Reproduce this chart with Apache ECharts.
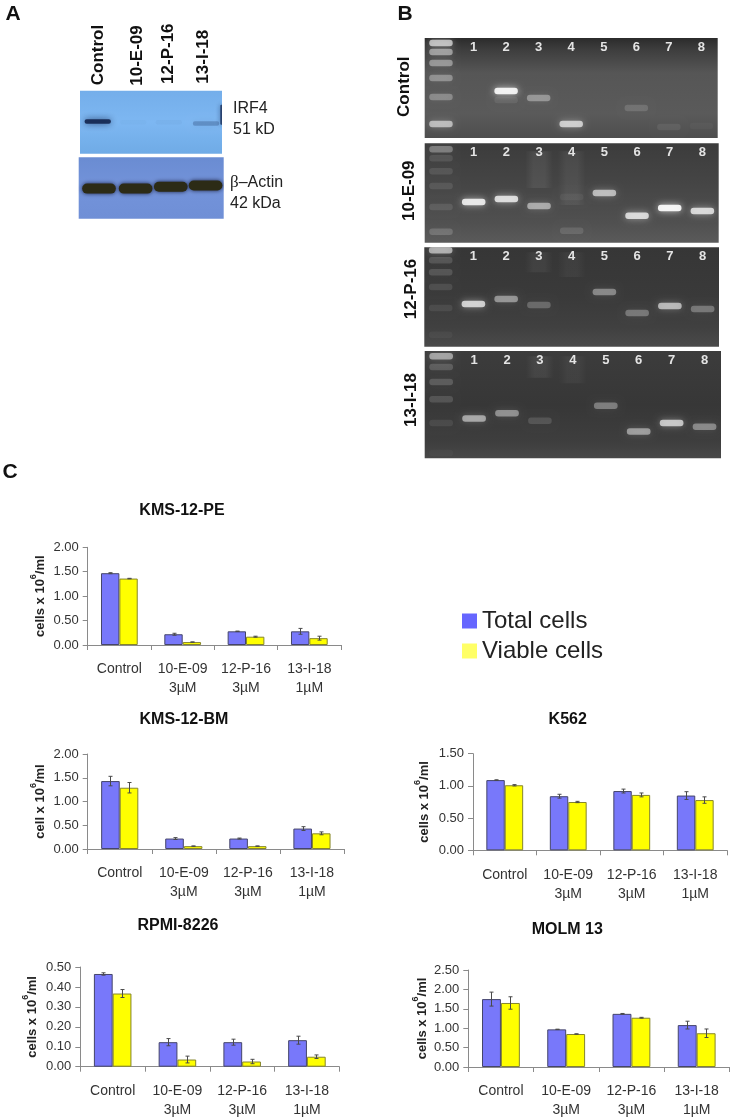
<!DOCTYPE html>
<html>
<head>
<meta charset="utf-8">
<style>html,body{margin:0;padding:0;background:#fff}#chart{width:733px;height:1120px}</style>
<script src="https://cdn.jsdelivr.net/npm/echarts@6/dist/echarts.min.js"></script>
</head>
<body>
<div id="chart"></div>
<script>
// ---------- panel C data ----------
const categories = ['Control', '10-E-09\n3µM', '12-P-16\n3µM', '13-I-18\n1µM'];
const seriesNames = ['Total cells', 'Viable cells'];

const kms12peTotal = [1.47, 0.22, 0.28, 0.28];
const kms12peViable = [1.36, 0.06, 0.17, 0.14];
const kms12peTotalErr = [0.01, 0.02, 0.005, 0.06];
const kms12peViableErr = [0.005, 0.003, 0.01, 0.04];

const kms12bmTotal = [1.43, 0.22, 0.22, 0.43];
const kms12bmViable = [1.29, 0.06, 0.06, 0.33];
const kms12bmTotalErr = [0.10, 0.02, 0.01, 0.04];
const kms12bmViableErr = [0.11, 0.005, 0.005, 0.03];

const rpmiTotal = [0.465, 0.123, 0.123, 0.133];
const rpmiViable = [0.367, 0.036, 0.026, 0.05];
const rpmiTotalErr = [0.006, 0.018, 0.015, 0.02];
const rpmiViableErr = [0.02, 0.017, 0.011, 0.009];

const k562Total = [1.09, 0.84, 0.92, 0.85];
const k562Viable = [1.01, 0.75, 0.86, 0.78];
const k562TotalErr = [0.005, 0.03, 0.03, 0.06];
const k562ViableErr = [0.01, 0.01, 0.03, 0.05];

const molmTotal = [1.75, 0.97, 1.37, 1.08];
const molmViable = [1.65, 0.85, 1.27, 0.87];
const molmTotalErr = [0.18, 0.005, 0.01, 0.10];
const molmViableErr = [0.16, 0.005, 0.01, 0.11];

// ---------- panel A data: [lane, migration %, darkness] ----------
const blotLanes = ['Control', '10-E-09', '12-P-16', '13-I-18'];
const irf4Bands = [[0, 49, 0.85], [1, 50, 0.02], [2, 50, 0.03], [3.05, 52, 0.24]];
const irf4EdgeSmudge = [[3.48, 38, 0.7]];
const actinBands = [[0.06, 51, 1], [1.07, 51, 1], [2.04, 48, 1], [3, 46, 1]];

// ---------- panel B data: [lane, migration %, brightness]; lane 0 is the ladder ----------
const gelLaneLabels = ['1', '2', '3', '4', '5', '6', '7', '8'];
const gelControlBands = [
  [0, 5, 0.62], [0, 14, 0.44], [0, 25, 0.38], [0, 40, 0.32], [0, 59, 0.28], [0, 86, 0.55],
  [2, 53, 0.88], [2, 62, 0.08], [3, 60, 0.34], [4, 86, 0.65], [6, 70, 0.14], [7, 89, 0.07], [8, 88, 0.03]
];
const gel10E09Bands = [
  [0, 6, 0.3], [0, 15, 0.1], [0, 28, 0.1], [0, 43, 0.1], [0, 64, 0.1], [0, 89, 0.17],
  [1, 59, 0.82], [2, 56, 0.75], [3, 63, 0.48], [4, 54, 0.05], [4, 88, 0.12], [5, 50, 0.58], [6, 73, 0.72], [7, 65, 0.9], [8, 68, 0.72]
];
const gel12P16Bands = [
  [0, 3, 0.55], [0, 13, 0.14], [0, 25, 0.14], [0, 40, 0.1], [0, 61, 0.08], [0, 88, 0.04],
  [1, 57, 0.7], [2, 52, 0.42], [3, 58, 0.22], [5, 45, 0.36], [6, 66, 0.28], [7, 59, 0.58], [8, 62, 0.28]
];
const gel13I18Bands = [
  [0, 5, 0.48], [0, 15, 0.17], [0, 29, 0.17], [0, 45, 0.14], [0, 67, 0.08], [0, 95, 0.03],
  [1, 63, 0.5], [2, 58, 0.4], [3, 65, 0.13], [5, 51, 0.32], [6, 75, 0.45], [7, 67, 0.65], [8, 70.5, 0.36]
];
// faint smears: [lane, from %, to %, brightness]
const gel10E09Smears = [[3, 8, 45, 0.07], [4, 8, 62, 0.06]];
const gel12P16Smears = [[3, 5, 25, 0.05], [4, 5, 30, 0.04]];
const gel13I18Smears = [[3, 5, 25, 0.06], [4, 5, 30, 0.04]];

// ---------- layout ----------
const FONT = '"Liberation Sans", Arial, sans-serif';
const grid = [], xAxis = [], yAxis = [], series = [], title = [], texts = [];

function addGrid(left, top, width, height) {
  grid.push({ left, top, width, height, containLabel: false, show: false });
  return grid.length - 1;
}

// ---------- bar charts ----------
function barChart(cfg) {
  const i = addGrid(cfg.left, cfg.top, cfg.right - cfg.left, cfg.bottom - cfg.top);
  xAxis.push({
    gridIndex: i, type: 'category', data: categories, position: 'bottom',
    axisLine: { lineStyle: { color: '#8a8a8a', width: 1 } },
    axisTick: { show: true, length: 5, alignWithLabel: false, interval: 0, lineStyle: { color: '#8a8a8a' } },
    axisLabel: { interval: 0, margin: 15, fontFamily: FONT, fontSize: 14, color: '#333', lineHeight: 19 },
    splitLine: { show: false }
  });
  yAxis.push({
    gridIndex: i, type: 'value', min: 0, max: cfg.max, interval: cfg.interval,
    name: '{a|' + cfg.yName + ' 10}{s|6}{a|/ml}', nameLocation: 'middle', nameRotate: 90, nameGap: cfg.nameGap,
    nameTextStyle: {
      fontFamily: FONT,
      rich: {
        a: { fontFamily: FONT, fontSize: 13, fontWeight: 'bold', color: '#222', lineHeight: 18, verticalAlign: 'bottom' },
        s: { fontFamily: FONT, fontSize: 9, fontWeight: 'bold', color: '#222', lineHeight: 18, verticalAlign: 'top' }
      }
    },
    axisLine: { show: true, lineStyle: { color: '#8a8a8a', width: 1 } },
    axisTick: { show: true, length: 5, lineStyle: { color: '#8a8a8a' } },
    axisLabel: { margin: 9, fontFamily: FONT, fontSize: 13, color: '#333', formatter: v => v.toFixed(2) },
    splitLine: { show: false }
  });
  const styles = [
    { color: '#7878fa', borderColor: '#45456a', borderWidth: 1 },
    { color: '#ffff00', borderColor: '#85852c', borderWidth: 1 }
  ];
  [cfg.total, cfg.viable].forEach((values, s) => {
    series.push({
      name: seriesNames[s], type: 'bar', xAxisIndex: i, yAxisIndex: i, data: values,
      barGap: 0, barCategoryGap: '42%', itemStyle: styles[s], silent: true, z: 2
    });
  });
  [cfg.totalErr, cfg.viableErr].forEach((errs, s) => {
    series.push({
      name: seriesNames[s] + ' error', type: 'custom', coordinateSystem: 'cartesian2d',
      xAxisIndex: i, yAxisIndex: i, silent: true, z: 3, clip: false,
      encode: { x: 0, y: 1 },
      data: errs.map((e, k) => [k, (s ? cfg.viable : cfg.total)[k], e]),
      renderItem: (params, api) => {
        const k = api.value(0), v = api.value(1), e = api.value(2);
        const off = api.size([1, 0])[0] * 0.145 * (s ? 1 : -1);
        const hi = api.coord([k, v + e]), lo = api.coord([k, v - e]);
        const x = Math.round(hi[0] + off) + 0.5;
        const st = { stroke: '#4a4a4a', lineWidth: 1, fill: 'none' };
        const seg = (x1, y1, x2, y2) => ({ type: 'line', shape: { x1, y1, x2, y2 }, style: st });
        return { type: 'group', children: [seg(x, hi[1], x, lo[1]), seg(x - 2, hi[1], x + 2, hi[1]), seg(x - 2, lo[1], x + 2, lo[1])] };
      }
    });
  });
  title.push({
    text: cfg.title, left: cfg.titleX, top: cfg.titleY - 9, textAlign: 'center', padding: 0,
    textStyle: { fontFamily: FONT, fontSize: 16, fontWeight: 'bold', color: '#111', lineHeight: 18 }
  });
}

barChart({ title: 'KMS-12-PE', titleX: 182, titleY: 511, left: 87.7, right: 341, top: 547.3, bottom: 645, max: 2, interval: 0.5, yName: 'cells x', nameGap: 41, total: kms12peTotal, viable: kms12peViable, totalErr: kms12peTotalErr, viableErr: kms12peViableErr });
barChart({ title: 'KMS-12-BM', titleX: 184, titleY: 719.5, left: 87.7, right: 344, top: 754, bottom: 849, max: 2, interval: 0.5, yName: 'cell x', nameGap: 41, total: kms12bmTotal, viable: kms12bmViable, totalErr: kms12bmTotalErr, viableErr: kms12bmViableErr });
barChart({ title: 'RPMI-8226', titleX: 178, titleY: 926, left: 80.3, right: 339.3, top: 967, bottom: 1066.7, max: 0.5, interval: 0.1, yName: 'cells x', nameGap: 41, total: rpmiTotal, viable: rpmiViable, totalErr: rpmiTotalErr, viableErr: rpmiViableErr });
barChart({ title: 'K562', titleX: 567.7, titleY: 719.5, left: 473, right: 727, top: 753.7, bottom: 850.3, max: 1.5, interval: 0.5, yName: 'cells x', nameGap: 42, total: k562Total, viable: k562Viable, totalErr: k562TotalErr, viableErr: k562ViableErr });
barChart({ title: 'MOLM 13', titleX: 567.3, titleY: 929.5, left: 468.3, right: 729.3, top: 970, bottom: 1067.3, max: 2.5, interval: 0.5, yName: 'cells x', nameGap: 39, total: molmTotal, viable: molmViable, totalErr: molmTotalErr, viableErr: molmViableErr });

// ---------- hidden coordinate systems for blots and gels ----------
function imagePanel(rect, laneMax) {
  const i = addGrid(rect[0], rect[1], rect[2] - rect[0], rect[3] - rect[1]);
  xAxis.push({ gridIndex: i, type: 'value', min: -0.5, max: laneMax + 0.5, show: false });
  yAxis.push({ gridIndex: i, type: 'value', min: 0, max: 100, inverse: true, show: false });
  return i;
}
function background(i, fillStops, z) {
  series.push({
    type: 'custom', coordinateSystem: 'cartesian2d', xAxisIndex: i, yAxisIndex: i, silent: true, z: z || 1,
    data: [[0, 0]], clip: false,
    renderItem: params => {
      const c = params.coordSys;
      return {
        type: 'rect', shape: { x: c.x, y: c.y, width: c.width, height: c.height },
        style: { fill: new echarts.graphic.LinearGradient(0, 0, 0, 1, fillStops.map(s => ({ offset: s[0], color: s[1] }))) }
      };
    }
  });
}
function bandSeries(i, data, make, z) {
  series.push({
    type: 'custom', coordinateSystem: 'cartesian2d', xAxisIndex: i, yAxisIndex: i, silent: true, z: z || 2,
    clip: true, data, encode: { x: 0, y: 1 }, renderItem: make
  });
}

// ---------- panel A ----------
const irf4Panel = imagePanel([80, 90.7, 222, 153.7], 3);
background(irf4Panel, [[0, '#74aeea'], [0.5, '#7db7f2'], [1, '#6fabe6']]);
bandSeries(irf4Panel, irf4Bands, (p, api) => {
  const c = api.coord([api.value(0), api.value(1)]), d = api.value(2);
  const w = api.size([1, 0])[0] * 0.74, h = 4.5;
  return { type: 'rect', shape: { x: c[0] - w / 2, y: c[1] - h / 2, width: w, height: h, r: 2 },
    style: { fill: 'rgba(14,30,70,' + d + ')', shadowBlur: 7, shadowColor: 'rgba(14,30,70,' + d + ')' } };
});
bandSeries(irf4Panel, irf4EdgeSmudge, (p, api) => {
  const c = api.coord([api.value(0), api.value(1)]), d = api.value(2);
  return { type: 'rect', shape: { x: c[0] - 1, y: c[1] - 10, width: 3, height: 20, r: 1 },
    style: { fill: 'rgba(14,30,70,' + d + ')', shadowBlur: 5, shadowColor: 'rgba(14,30,70,' + d + ')' } };
});
const actinPanel = imagePanel([78.7, 157.3, 223.7, 218.7], 3);
background(actinPanel, [[0, '#6a8cd2'], [0.5, '#7393da'], [1, '#6f8fd6']]);
bandSeries(actinPanel, actinBands, (p, api) => {
  const c = api.coord([api.value(0), api.value(1)]);
  const w = api.size([1, 0])[0] * 0.93, h = 10;
  return { type: 'rect', shape: { x: c[0] - w / 2, y: c[1] - h / 2, width: w, height: h, r: 5 },
    style: { fill: '#2c2b16', shadowBlur: 4, shadowColor: '#1a2040' } };
});

// ---------- panel B ----------
function gel(rect, stops, bands, smears) {
  const i = imagePanel(rect, 8);
  background(i, stops);
  if (smears) {
    bandSeries(i, smears, (p, api) => {
      const a = api.coord([api.value(0), api.value(1)]), b = api.coord([api.value(0), api.value(2)]);
      const w = api.size([1, 0])[0] * 0.85, o = api.value(3);
      return { type: 'rect', shape: { x: a[0] - w / 2, y: a[1], width: w, height: b[1] - a[1] },
        style: { fill: new echarts.graphic.LinearGradient(0, 0, 1, 0, [
          { offset: 0, color: 'rgba(255,255,255,0)' }, { offset: 0.3, color: 'rgba(255,255,255,' + o + ')' },
          { offset: 0.7, color: 'rgba(255,255,255,' + o + ')' }, { offset: 1, color: 'rgba(255,255,255,0)' }]) } };
    });
  }
  bandSeries(i, bands, (p, api) => {
    const c = api.coord([api.value(0), api.value(1)]), b = api.value(2);
    const w = api.size([1, 0])[0] * 0.72, h = 6.5;
    return { type: 'rect', shape: { x: c[0] - w / 2, y: c[1] - h / 2, width: w, height: h, r: 3 },
      style: { fill: 'rgba(255,255,255,' + b + ')', shadowBlur: 7, shadowColor: 'rgba(255,255,255,' + (b * 0.8) + ')' } };
  }, 3);
  bandSeries(i, gelLaneLabels.map((t, k) => [k + 1, 9, t]), (p, api) => {
    const c = api.coord([api.value(0), api.value(1)]);
    return { type: 'text', x: c[0], y: c[1], style: { text: gelLaneLabels[p.dataIndex], font: 'bold 13px ' + FONT, fill: '#e4e4e4', align: 'center', verticalAlign: 'middle' } };
  }, 4);
}
gel([424.7, 38, 717.7, 138], [[0, '#2b2b2b'], [0.12, '#3e3e3e'], [0.35, '#565656'], [0.75, '#5a5a5a'], [1, '#4e4e4e']], gelControlBands);
gel([424.7, 143.3, 718.7, 242.7], [[0, '#3c3c3c'], [0.4, '#454545'], [0.8, '#505050'], [1, '#5a5a5a']], gel10E09Bands, gel10E09Smears);
gel([424.3, 247.3, 719, 346.7], [[0, '#363636'], [0.5, '#3a3a3a'], [0.8, '#404040'], [1, '#4a4a4a']], gel12P16Bands, gel12P16Smears);
gel([424.7, 351, 721, 458.3], [[0, '#3c3c3c'], [0.5, '#373737'], [0.85, '#3e3e3e'], [1, '#484848']], gel13I18Bands, gel13I18Smears);

// ---------- text annotations ----------
function addText(text, x, y, font, opts) {
  texts.push(Object.assign({ type: 'text', x, y, z: 20, silent: true,
    style: { text, font, fill: '#111', align: 'center', verticalAlign: 'middle' } }, opts || {}));
}
const ROT = Math.PI / 2;
addText('A', 13, 14, 'bold 21px ' + FONT);
addText('B', 405, 14, 'bold 21px ' + FONT);
addText('C', 10, 472, 'bold 21px ' + FONT);

const blotLabelPos = [[98, 55], [137, 55.5], [168, 53.7], [203, 56.7]];
blotLanes.forEach((t, k) => addText(t, blotLabelPos[k][0], blotLabelPos[k][1], 'bold 17px ' + FONT, { rotation: ROT }));
const gelLabelPos = [[404.5, 86.7], [409, 190.7], [411, 289], [411, 400]];
blotLanes.forEach((t, k) => addText(t, gelLabelPos[k][0], gelLabelPos[k][1], 'bold 17px ' + FONT, { rotation: ROT }));

[['IRF4', 233, 109], ['51 kD', 233, 130], ['42 kDa', 230, 204]].forEach(r => {
  texts.push({ type: 'text', x: r[1], y: r[2], z: 20, silent: true,
    style: { text: r[0], font: '16px ' + FONT, fill: '#222', align: 'left', verticalAlign: 'middle' } });
});
texts.push({ type: 'text', x: 230, y: 183, z: 20, silent: true,
  style: { text: '{b|β}{t|–Actin}', align: 'left', verticalAlign: 'middle',
    rich: { b: { font: '17px "Liberation Serif", serif', fill: '#222' }, t: { font: '16px ' + FONT, fill: '#222' } } } });

// ---------- chart ----------
const chart = echarts.init(document.getElementById('chart'), null, { renderer: 'canvas', width: 733, height: 1120 });
chart.setOption({
  backgroundColor: '#fff',
  animation: false,
  title, grid, xAxis, yAxis, series,
  legend: {
    left: 462, top: 609, padding: 0, orient: 'vertical', itemWidth: 15, itemHeight: 15, itemGap: 6, selectedMode: false,
    textStyle: { fontFamily: FONT, fontSize: 24, color: '#222', lineHeight: 24 },
    data: [
      { name: seriesNames[0], icon: 'rect', itemStyle: { color: '#6666ff', borderWidth: 0 } },
      { name: seriesNames[1], icon: 'rect', itemStyle: { color: '#ffff66', borderWidth: 0 } }
    ]
  },
  graphic: { elements: texts }
});
</script>
</body>
</html>
